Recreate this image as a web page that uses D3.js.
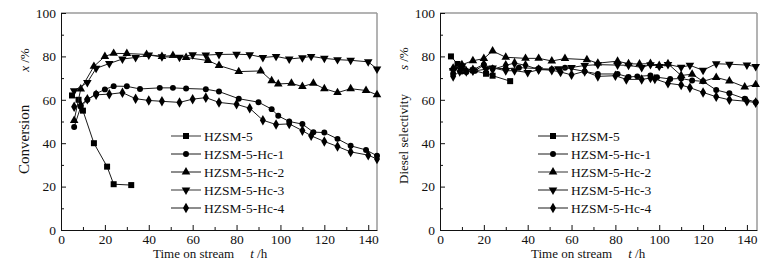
<!DOCTYPE html>
<html lang="en">
<head>
    <meta charset="UTF-8">
    <title>Conversion and diesel selectivity</title>
    <style>
        body { margin: 0; background: #fff; }
        text { font-family: "Liberation Serif", "DejaVu Serif", serif; fill: #111; }
    </style>
</head>
<body>
<script src="https://d3js.org/d3.v7.min.js"></script>
<script>
    // series names (legend order)
    const seriesNames = ["HZSM-5", "HZSM-5-Hc-1", "HZSM-5-Hc-2", "HZSM-5-Hc-3", "HZSM-5-Hc-4"];
    const yTicks = [0, 20, 40, 60, 80, 100];
    const xTicks = [0, 20, 40, 60, 80, 100, 120, 140];

    // conversion x /% vs time t /h
    const convH5 = [[5, 62], [8, 60], [10, 55], [15, 40], [21, 29.2], [24, 21.1], [32, 20.7]];
    const convHc1 = [[6, 47.5], [9, 56.8], [12, 60], [16, 62.8], [20, 64.8], [24, 66.3], [30, 66.2], [36, 65],
        [45, 65.5], [51, 65.5], [57, 65.2], [66, 64.9], [72, 63.8], [81, 60.5], [90, 58.9], [96, 55.7],
        [99, 52.6], [104, 50], [110, 48.8], [115, 45.1], [120, 44.9], [126, 42], [132, 38.8], [139, 36.9], [144, 34.2]];
    const convHc2 = [[6, 50.5], [9, 65], [15, 75.4], [20, 80], [24, 81.4], [30, 81.3], [39, 80.9], [46, 80],
        [51, 80.4], [57, 79.5], [67, 78.1], [72, 75.8], [81, 73], [91, 73.3], [96, 68.8], [99, 67.3],
        [105, 67.6], [110, 66.1], [115, 67.6], [120, 65.1], [126, 63.3], [132, 65.1], [139, 64.3], [144, 62.3]];
    const convHc3 = [[6, 64.2], [12, 68], [16, 74.5], [22, 76.7], [28, 78.8], [34, 79.5], [40, 80.6], [46, 79.8],
        [54, 79.6], [60, 80.8], [66, 80.6], [72, 80.9], [80, 81], [86, 80.8], [92, 79.5], [98, 80],
        [104, 78.8], [110, 79.4], [114, 80], [120, 79.1], [126, 78.5], [132, 78.2], [140, 77.5], [144, 74.2]];
    const convHc4 = [[6, 56.8], [9, 57.5], [12, 60.3], [16, 62.3], [22, 62.6], [28, 63.3], [34, 60.5], [40, 59.7],
        [46, 59.3], [54, 58.8], [60, 60.3], [66, 61], [72, 58.8], [80, 57.9], [86, 56.1], [92, 50.6],
        [98, 48.6], [104, 48.9], [110, 45.8], [114, 43.4], [120, 40.8], [126, 38.5], [132, 36], [140, 34.5], [144, 32.7]];

    // diesel selectivity s /% vs time t /h
    const selH5 = [[5, 80], [8, 76.5], [10, 74.6], [15, 73.6], [21, 72], [24, 71.1], [32, 68.6]];
    const selHc1 = [[6, 72], [8, 75.4], [10, 73], [12, 72.8], [16, 73.4], [20, 76], [24, 74.6], [30, 74.3],
        [36, 74.8], [45, 74.4], [51, 74.1], [57, 74.8], [66, 73.1], [72, 71.9], [81, 71.9], [86, 70.5],
        [90, 70.8], [96, 71.2], [99, 70.4], [105, 69.6], [110, 69.8], [115, 68.9], [120, 68.5], [126, 64.5],
        [132, 63], [139, 60.5], [144, 58.9]];
    const selHc2 = [[6, 74.6], [10, 76.2], [15, 78], [20, 79], [24, 82.5], [30, 79.6], [39, 79.1], [45, 79.1],
        [51, 77.9], [57, 79], [67, 78.5], [72, 76.9], [81, 77.8], [86, 76.6], [91, 76.5], [96, 76.7],
        [100, 75.8], [104, 76.6], [110, 71.2], [115, 71.8], [120, 68.5], [126, 70.3], [132, 68.7], [139, 65.9], [144, 67]];
    const selHc3 = [[6, 73.5], [10, 75.5], [15, 73.2], [21, 74.1], [24, 74.7], [30, 73.4], [34, 73.4], [40, 72.6],
        [45, 73.8], [54, 74.3], [60, 74.9], [66, 75.8], [72, 76.2], [81, 76], [86, 75.9], [92, 74.9],
        [96, 76.2], [100, 75.4], [104, 76.3], [110, 75], [114, 75.9], [120, 73.6], [126, 76.6], [132, 76.4],
        [140, 76], [144, 75.3]];
    const selHc4 = [[6, 70.8], [9, 73.1], [12, 73.1], [15, 73.8], [20, 76.4], [24, 74], [30, 75.9], [34, 76.9],
        [39, 75.9], [45, 74], [51, 73.6], [55, 72.8], [60, 71.5], [66, 73.1], [72, 70.8], [80, 71.1],
        [85, 69.4], [92, 69.4], [96, 70], [98, 69.6], [104, 67.6], [110, 66.8], [114, 65.6], [120, 63.4],
        [126, 61.4], [132, 60], [140, 59.3], [144, 58.7]];

    const W = 782, H = 265;
    const svg = d3.select("body").append("svg")
        .attr("width", W)
        .attr("height", H);

    // marker per series
    const symbols = [
        {type: d3.symbolSquare, size: 36, rot: 0},
        {type: d3.symbolCircle, size: 28, rot: 0},
        {type: d3.symbolTriangle, size: 32, rot: 0},
        {type: d3.symbolTriangle, size: 32, rot: 180},
        {type: d3.symbolDiamond, size: 32, rot: 0}
    ];

    function drawPanel(opt) {
        const x = d3.scaleLinear().domain([0, opt.xMax]).range([opt.left, opt.right]);
        const y = d3.scaleLinear().domain([0, 100]).range([opt.bottom, opt.top]);
        const g = svg.append("g");

        // frame: top and right in grey
        g.append("line")
            .attr("x1", opt.left).attr("x2", opt.right)
            .attr("y1", opt.top).attr("y2", opt.top)
            .attr("stroke", "#9a9a9a").attr("stroke-width", 1.5);
        g.append("line")
            .attr("x1", opt.right).attr("x2", opt.right)
            .attr("y1", opt.top).attr("y2", opt.bottom)
            .attr("stroke", "#9a9a9a").attr("stroke-width", 1.5);

        // axes, ticks pointing inward
        g.append("g")
            .attr("transform", "translate(0," + opt.bottom + ")")
            .call(d3.axisBottom(x).tickValues(xTicks).tickSizeInner(-5).tickSizeOuter(0).tickPadding(4));
        g.append("g")
            .attr("transform", "translate(0," + opt.bottom + ")")
            .call(d3.axisBottom(x).tickValues(d3.range(10, opt.xMax, 20)).tickSize(-3).tickFormat(""))
            .call(a => a.select(".domain").remove());
        g.append("g")
            .attr("transform", "translate(" + opt.left + ",0)")
            .call(d3.axisLeft(y).tickValues(yTicks).tickSizeInner(-5).tickSizeOuter(0).tickPadding(5));
        g.append("g")
            .attr("transform", "translate(" + opt.left + ",0)")
            .call(d3.axisLeft(y).tickValues(d3.range(10, 100, 20)).tickSize(-3).tickFormat(""))
            .call(a => a.select(".domain").remove());

        g.selectAll(".tick text")
            .style("font-family", "'Liberation Serif', serif")
            .style("font-size", "13.5px")
            .attr("fill", "#111");
        g.selectAll(".domain, .tick line").attr("stroke", "#111");

        // data
        const line = d3.line().x(d => x(d[0])).y(d => y(d[1]));
        opt.series.forEach((s, i) => {
            g.append("path")
                .datum(s)
                .attr("fill", "none")
                .attr("stroke", "#1a1a1a")
                .attr("stroke-width", 1)
                .attr("d", line);
            g.selectAll(null)
                .data(s)
                .enter()
                .append("path")
                .attr("d", d3.symbol().type(symbols[i].type).size(symbols[i].size))
                .attr("transform", d => "translate(" + x(d[0]) + "," + y(d[1]) + ") rotate(" + symbols[i].rot + ")")
                .attr("fill", "#000");
        });

        // legend
        seriesNames.forEach((name, i) => {
            const ly = opt.legendY + i * 18;
            g.append("line")
                .attr("x1", opt.legendX).attr("x2", opt.legendX + 30)
                .attr("y1", ly).attr("y2", ly)
                .attr("stroke", opt.greyLegend.includes(i) ? "#808080" : "#1a1a1a")
                .attr("stroke-width", opt.greyLegend.includes(i) ? 1.6 : 1);
            g.append("path")
                .attr("d", d3.symbol().type(symbols[i].type).size(symbols[i].size))
                .attr("transform", "translate(" + (opt.legendX + 15) + "," + ly + ") rotate(" + symbols[i].rot + ")")
                .attr("fill", "#000");
            g.append("text")
                .attr("x", opt.legendX + 33)
                .attr("y", ly)
                .attr("dy", "0.35em")
                .style("font-size", "13.5px")
                .text(name);
        });

        // x title
        const xt = g.append("text")
            .attr("x", opt.xTitleX)
            .attr("y", 258)
            .style("font-size", "13px");
        xt.append("tspan").text("Time on stream");
        xt.append("tspan").attr("dx", 16).style("font-style", "italic").text("t");
        xt.append("tspan").text(" /h");

        // y title
        const yt = g.append("text")
            .attr("transform", "translate(" + opt.yTitleX + "," + opt.yTitleY + ") rotate(-90)")
            .style("font-size", opt.yFont + "px");
        yt.append("tspan").text(opt.yTitle);
        yt.append("tspan").attr("dx", opt.yGap).style("font-style", "italic")
            .style("font-size", "13px").text(opt.yVar);
        yt.append("tspan").style("font-size", "13px").text(" /%");
    }

    drawPanel({
        left: 61, right: 377, top: 13, bottom: 230, xMax: 144,
        series: [convH5, convHc1, convHc2, convHc3, convHc4],
        legendX: 171, legendY: 136, greyLegend: [0, 3],
        xTitleX: 153, yTitleX: 29, yTitleY: 174,
        yTitle: "Conversion", yVar: "x", yGap: 33, yFont: 15
    });

    drawPanel({
        left: 440, right: 757, top: 13, bottom: 230, xMax: 144.6,
        series: [selH5, selHc1, selHc2, selHc3, selHc4],
        legendX: 538, legendY: 136, greyLegend: [2],
        xTitleX: 531, yTitleX: 408, yTitleY: 184,
        yTitle: "Diesel selectivity", yVar: "s", yGap: 24, yFont: 13
    });
</script>
</body>
</html>
